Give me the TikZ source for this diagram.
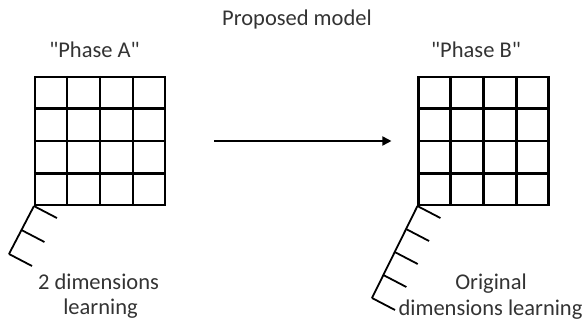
\documentclass[tikz,border=0pt]{standalone}
\usepackage{fontspec}
\setmainfont{Carlito}[Ligatures=TeXOff]
\usetikzlibrary{arrows.meta,calc}
\begin{document}
\begin{tikzpicture}[x=1pt,y=-1pt,
  lbl/.style={font=\fontsize{22.5}{27}\selectfont, text=black!80, anchor=base, inner sep=0pt},
  cellgrid/.style={draw, line width=2.1pt, minimum width=130pt, minimum height=128pt, inner sep=0pt},
  gridline/.style={line width=2.1pt},
  axis/.style={line width=1.8pt},
  flow/.style={line width=1.8pt, -{Triangle[length=9pt,width=9pt]}}]
\useasboundingbox (0,0) rectangle (587,326);

% title
\node[lbl] (title) at (297,26) {Proposed model};

% the two 4x4 grids
\node[cellgrid] (gA) at (100,141) {};
\node[cellgrid] (gB) at (483.5,141) {};
\foreach \g in {gA,gB}{
  \foreach \i in {1,2,3}{
    \draw[gridline] ($(\g.north west)!\i/4!(\g.north east)$) -- ($(\g.south west)!\i/4!(\g.south east)$);
    \draw[gridline] ($(\g.north west)!\i/4!(\g.south west)$) -- ($(\g.north east)!\i/4!(\g.south east)$);
  }
}

% phase labels
\node[lbl] (pA) at (94.5,58) {"Phase A"};
\node[lbl] (pB) at (476,58) {"Phase B"};

% arrow between phases
\draw[flow, shorten <=48pt, shorten >=26pt] (gA.east) -- (gB.west);

% dimension axes with ticks
\coordinate (endA) at (9,254);
\coordinate (endB) at (372,298);
\draw[axis] (gA.south west) -- (endA);
\foreach \t in {0,0.5,1}
  \draw[axis] ($(gA.south west)!\t!(endA)$) -- ++(23,12);
\draw[axis] (gB.south west) -- (endB);
\foreach \t in {0,0.25,0.5,0.75,1}
  \draw[axis] ($(gB.south west)!\t!(endB)$) -- ++(23,12);

% captions
\node[lbl] (cA1) at (98.5,290) {2 dimensions};
\node[lbl] (cA2) at (100.5,314) {learning};
\node[lbl] (cB1) at (491,290) {Original};
\node[lbl] (cB2) at (490.5,315) {dimensions learning};
\end{tikzpicture}
\end{document}
